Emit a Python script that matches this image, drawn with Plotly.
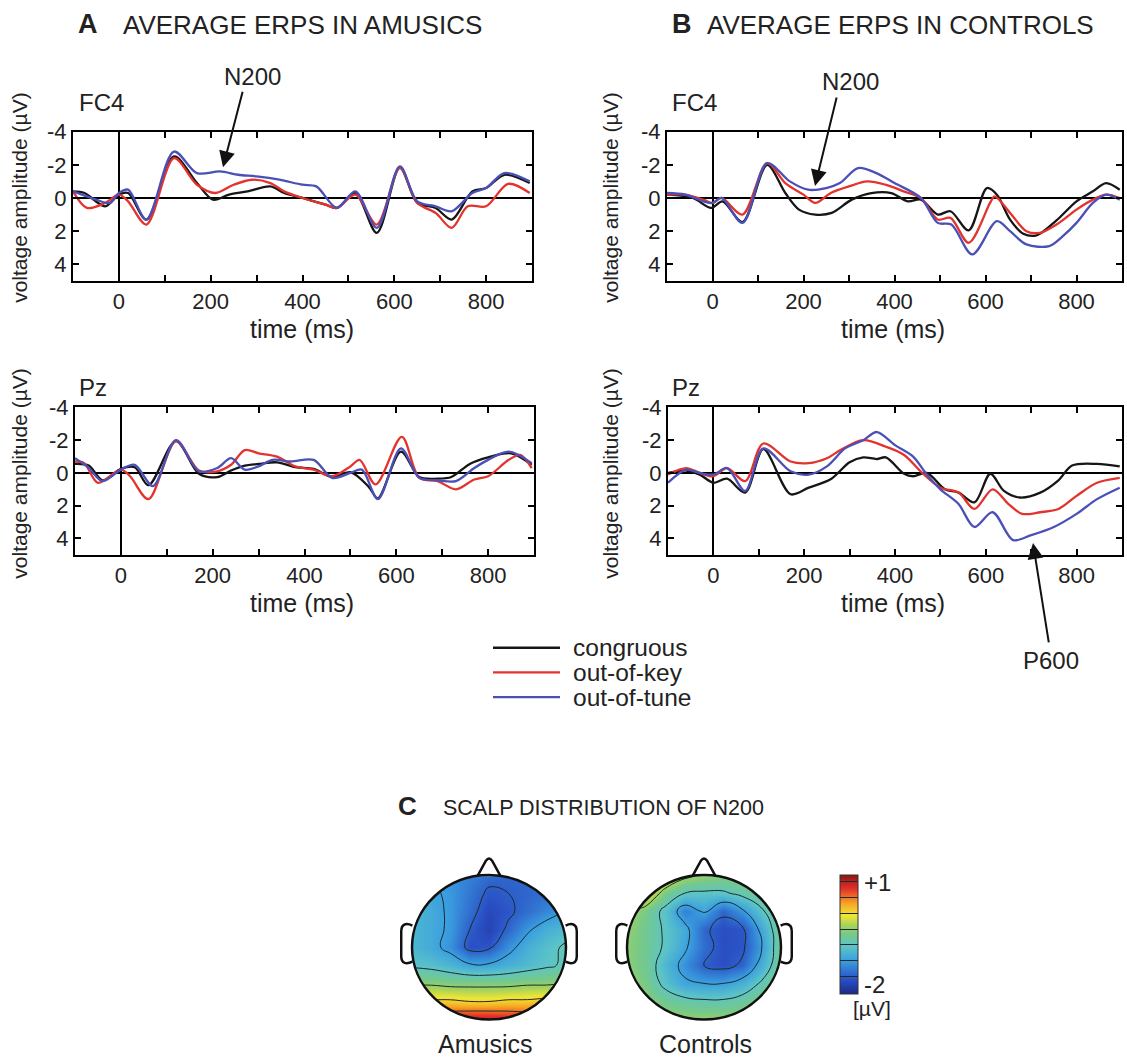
import math
import plotly.graph_objects as go

W, H = 1127, 1061
FONT = "Liberation Sans, Arial, Helvetica, sans-serif"

# ---------------- ERP data (time in ms, amplitude in microvolts) ----------------
# Panel A, FC4 (amusics)
a_fc4_cong_t = [-100, -75, -30, 0, 20, 60, 120, 170, 205, 240, 280, 330, 360, 400, 450, 475, 515, 562, 612, 650, 690, 725, 770, 800, 840, 895]
a_fc4_cong_v = [-0.4, -0.3, 0.5, -0.2, -0.3, 1.3, -2.5, -0.9, 0.1, -0.2, -0.4, -0.7, -0.3, 0.0, 0.4, 0.6, -0.3, 2.1, -1.85, 0.3, 0.6, 1.3, -0.4, -0.6, -1.4, -0.9]
a_fc4_key_t = [-100, -70, -30, 0, 20, 60, 120, 170, 210, 250, 290, 330, 360, 400, 450, 475, 515, 562, 612, 650, 690, 725, 760, 800, 848, 895]
a_fc4_key_v = [-0.4, 0.6, 0.3, -0.2, 0.2, 1.6, -2.4, -0.8, -0.3, -0.8, -1.1, -0.9, -0.4, 0.0, 0.4, 0.6, -0.2, 1.6, -1.8, 0.3, 0.9, 1.8, 0.5, 0.5, -0.85, -0.3]
a_fc4_tune_t = [-100, -50, -20, 0, 20, 60, 120, 170, 220, 260, 300, 350, 400, 430, 475, 515, 562, 612, 650, 690, 725, 770, 800, 840, 895]
a_fc4_tune_v = [-0.4, 0.1, 0.3, -0.3, -0.5, 1.3, -2.8, -1.5, -1.6, -1.4, -1.3, -1.1, -0.8, -0.7, 0.6, -0.4, 1.8, -1.9, 0.2, 0.5, 0.8, -0.3, -0.6, -1.5, -1.0]

# Panel B, FC4 (controls)
b_fc4_cong_t = [-100, -43, -3, 22, 66, 120, 160, 190, 226, 262, 306, 349, 393, 429, 458, 495, 523, 563, 603, 625, 654, 683, 712, 756, 800, 836, 865, 895]
b_fc4_cong_v = [-0.2, 0.0, 0.6, 0.2, 1.45, -2.0, -0.3, 0.7, 1.0, 0.9, 0.1, -0.3, -0.3, 0.2, 0.1, 1.0, 0.8, 1.95, -0.6, -0.2, 1.3, 2.15, 2.25, 1.35, 0.2, -0.4, -0.9, -0.5]
b_fc4_key_t = [-100, -60, -20, 0, 20, 66, 120, 160, 200, 226, 260, 300, 340, 380, 420, 458, 495, 523, 563, 610, 620, 654, 690, 720, 756, 800, 836, 865, 895]
b_fc4_key_v = [-0.2, -0.2, 0.1, 0.3, 0.0, 1.0, -2.1, -0.9, -0.2, 0.3, -0.3, -0.7, -1.0, -0.8, -0.4, 0.0, 1.3, 1.2, 2.7, 0.3, -0.1, 0.9, 2.0, 2.1, 1.6, 0.7, 0.1, -0.2, 0.0]
b_fc4_tune_t = [-100, -60, -20, 0, 20, 66, 120, 170, 210, 250, 280, 320, 360, 400, 458, 495, 525, 571, 625, 654, 690, 740, 770, 800, 836, 865, 895]
b_fc4_tune_v = [-0.3, -0.2, 0.2, 0.3, 0.0, 1.5, -2.1, -1.0, -0.5, -0.6, -0.9, -1.8, -1.5, -0.9, 0.0, 1.5, 1.6, 3.4, 1.4, 2.0, 2.8, 2.9, 2.3, 1.5, 0.3, -0.2, 0.1]

# Panel A, Pz (amusics)
a_pz_cong_t = [-100, -70, -40, 0, 30, 60, 120, 170, 210, 240, 270, 300, 340, 380, 420, 460, 500, 540, 560, 610, 650, 690, 720, 760, 800, 850, 895]
a_pz_cong_v = [-0.55, -0.45, 0.45, -0.25, -0.35, 0.75, -1.95, 0.05, 0.25, -0.15, -0.45, -0.55, -0.65, -0.35, -0.25, 0.25, -0.05, 0.85, 1.55, -1.3, 0.25, 0.35, 0.25, -0.55, -0.95, -1.2, -0.5]
a_pz_key_t = [-100, -80, -50, 0, 20, 60, 120, 170, 210, 240, 270, 300, 340, 380, 420, 460, 500, 520, 555, 612, 650, 690, 730, 770, 800, 845, 870, 895]
a_pz_key_v = [-0.7, -0.6, 0.6, -0.2, 0.2, 1.6, -1.95, -0.15, -0.1, -0.5, -1.4, -1.2, -1.0, -0.4, -0.2, 0.2, -0.4, -0.8, 0.7, -2.2, 0.3, 0.5, 1.0, 0.4, 0.2, -0.8, -1.1, -0.3]
a_pz_tune_t = [-100, -70, -40, 0, 30, 70, 120, 170, 210, 240, 270, 300, 330, 370, 420, 460, 500, 525, 560, 610, 650, 690, 730, 770, 800, 845, 895]
a_pz_tune_v = [-0.9, -0.3, 0.5, -0.2, -0.5, 0.8, -2.0, -0.1, -0.3, -0.9, -0.2, -0.4, -0.8, -0.7, -0.8, 0.3, 0.0, -0.2, 1.6, -1.5, 0.3, 0.45, 0.5, -0.3, -0.8, -1.3, -0.6]

# Panel B, Pz (controls)
b_pz_cong_t = [-100, -60, -30, 0, 30, 70, 110, 170, 210, 260, 300, 330, 360, 380, 420, 440, 470, 510, 540, 575, 610, 640, 675, 720, 760, 790, 845, 895]
b_pz_cong_v = [0.0, -0.15, 0.1, 0.6, 0.35, 1.2, -1.45, 1.3, 0.9, 0.35, -0.65, -0.95, -0.85, -0.95, 0.05, 0.2, 0.0, 1.0, 1.2, 1.8, 0.05, 1.1, 1.5, 1.2, 0.45, -0.45, -0.55, -0.4]
b_pz_key_t = [-100, -60, -30, 0, 30, 70, 110, 170, 210, 250, 280, 330, 380, 420, 460, 500, 540, 575, 615, 650, 680, 720, 760, 800, 845, 895]
b_pz_key_v = [0.1, -0.3, 0.0, 0.2, -0.3, 0.5, -1.8, -0.7, -0.6, -0.9, -1.4, -2.0, -1.6, -1.1, 0.0, 0.9, 1.2, 2.2, 1.0, 1.9, 2.5, 2.4, 2.2, 1.4, 0.6, 0.3]
b_pz_tune_t = [-100, -60, -30, 0, 30, 70, 110, 170, 210, 250, 290, 330, 360, 400, 440, 470, 500, 540, 575, 615, 660, 700, 750, 800, 845, 895]
b_pz_tune_v = [0.6, -0.2, 0.0, 0.1, -0.3, 1.1, -1.5, -0.1, 0.1, -0.4, -1.5, -2.0, -2.5, -1.7, -1.0, 0.1, 1.0, 1.9, 3.3, 2.4, 4.1, 3.8, 3.3, 2.5, 1.6, 0.9]

conditions = ["congruous", "out-of-key", "out-of-tune"]
cond_colors = ["#161616", "#e3332d", "#4a50b6"]

x_tick_vals = [0, 100, 200, 300, 400, 500, 600, 700, 800]
x_tick_text = ["0", "", "200", "", "400", "", "600", "", "800"]
y_tick_vals = [-4, -2, 0, 2, 4]
y_tick_text = ["-4", "-2", "0", "2", "4"]

# ---------------- Scalp maps (N200 amplitude, microvolts) ----------------
topo_grid = [-1.0, -0.75, -0.5, -0.25, 0.0, 0.25, 0.5, 0.75, 1.0]
# rows listed from front (top, y=+1) to back (bottom, y=-1)
topo_amusics_rows = [
    [-1.05, -1.15, -1.25, -1.35, -1.45, -1.50, -1.50, -1.45, -1.40],
    [-1.00, -1.10, -1.20, -1.40, -1.60, -1.55, -1.50, -1.45, -1.35],
    [-0.95, -1.05, -1.20, -1.45, -1.70, -1.60, -1.45, -1.30, -1.15],
    [-0.95, -1.05, -1.20, -1.55, -1.75, -1.50, -1.20, -1.00, -0.90],
    [-0.95, -1.05, -1.25, -1.65, -1.60, -1.25, -1.00, -0.85, -0.70],
    [-0.80, -0.85, -0.95, -1.10, -1.10, -1.00, -0.90, -0.80, -0.70],
    [-0.40, -0.40, -0.45, -0.45, -0.45, -0.45, -0.40, -0.40, -0.35],
    [0.15, 0.10, 0.10, 0.05, 0.05, 0.10, 0.10, 0.15, 0.15],
    [0.75, 0.75, 0.75, 0.80, 0.80, 0.75, 0.70, 0.70, 0.70],
]
topo_controls_rows = [
    [0.40, 0.30, 0.05, -0.25, -0.35, -0.40, -0.40, -0.35, -0.30],
    [0.25, 0.00, -0.50, -0.75, -0.80, -0.80, -0.65, -0.50, -0.35],
    [-0.25, -0.50, -0.85, -1.35, -1.10, -1.50, -1.20, -0.80, -0.45],
    [-0.35, -0.55, -0.80, -1.05, -1.50, -1.65, -1.60, -1.05, -0.50],
    [-0.40, -0.55, -0.80, -1.10, -1.45, -1.65, -1.60, -1.15, -0.50],
    [-0.40, -0.55, -0.95, -1.25, -1.55, -1.65, -1.50, -1.00, -0.50],
    [-0.35, -0.50, -0.85, -1.10, -1.15, -1.15, -1.00, -0.70, -0.45],
    [-0.30, -0.40, -0.55, -0.65, -0.70, -0.70, -0.60, -0.45, -0.35],
    [-0.20, -0.25, -0.30, -0.35, -0.35, -0.35, -0.30, -0.25, -0.20],
]
topo_zmin, topo_zmax = -2.0, 1.0
colorbar_labels = ["+1", "-2"]

jet_scale = [
    [0.00, "#1c2a86"], [0.12, "#2a4fc4"], [0.28, "#3a9fe0"], [0.40, "#5cc4c8"],
    [0.50, "#76c98a"], [0.58, "#a8d45a"], [0.66, "#f2e634"], [0.76, "#f6a524"],
    [0.88, "#e5322a"], [1.00, "#8a1717"],
]

# ---------------- helpers ----------------
def px(x):
    return x / W


def py(y):
    return 1 - y / H


fig = go.Figure()

panels = [
    # (axis suffix, x px range, y px range, data)
    ("", (73, 532), (121, 272),
     [(a_fc4_cong_t, a_fc4_cong_v), (a_fc4_key_t, a_fc4_key_v), (a_fc4_tune_t, a_fc4_tune_v)]),
    ("2", (667, 1122), (121, 272),
     [(b_fc4_cong_t, b_fc4_cong_v), (b_fc4_key_t, b_fc4_key_v), (b_fc4_tune_t, b_fc4_tune_v)]),
    ("3", (75, 534), (400, 549),
     [(a_pz_cong_t, a_pz_cong_v), (a_pz_key_t, a_pz_key_v), (a_pz_tune_t, a_pz_tune_v)]),
    ("4", (668, 1122), (400, 549),
     [(b_pz_cong_t, b_pz_cong_v), (b_pz_key_t, b_pz_key_v), (b_pz_tune_t, b_pz_tune_v)]),
]

tickfont = dict(family=FONT, size=22, color="#222")
layout_axes = {}
for suf, (x0, x1), (y0, y1), series in panels:
    for (t, v), name, col in zip(series, conditions, cond_colors):
        fig.add_trace(go.Scatter(
            x=t, y=v, mode="lines", name=name,
            line=dict(color=col, width=2.3, shape="spline", smoothing=0.9),
            xaxis="x" + suf, yaxis="y" + suf, showlegend=False, hoverinfo="skip"))
    layout_axes["xaxis" + suf] = dict(
        domain=[px(x0), px(x1)], anchor="y" + suf, range=[-100, 900],
        tickmode="array", tickvals=x_tick_vals, ticktext=x_tick_text,
        ticks="inside", ticklen=6, tickwidth=1.5, tickcolor="black",
        showline=True, linewidth=2, linecolor="black", mirror="ticks",
        showgrid=False, zeroline=True, zerolinecolor="black", zerolinewidth=2,
        tickfont=tickfont, fixedrange=True)
    layout_axes["yaxis" + suf] = dict(
        domain=[py(y1), py(y0)], anchor="x" + suf, range=[5, -4],
        tickmode="array", tickvals=y_tick_vals, ticktext=y_tick_text,
        ticks="inside", ticklen=6, tickwidth=1.5, tickcolor="black",
        showline=True, linewidth=2, linecolor="black", mirror="ticks",
        showgrid=False, zeroline=True, zerolinecolor="black", zerolinewidth=2,
        tickfont=tickfont, fixedrange=True)

# ---------------- scalp maps ----------------
topos = [
    ("5", 489, 946, topo_amusics_rows, False),
    ("6", 704, 946, topo_controls_rows, True),
]
RX, RY, PAD = 77, 73, 1.3
shapes = []
n_circ = 160
circ = [(math.cos(2 * math.pi * k / n_circ), math.sin(2 * math.pi * k / n_circ)) for k in range(n_circ)]
for suf, cx, cy, rows, show_cb in topos:
    z = rows[::-1]
    fig.add_trace(go.Contour(
        x=topo_grid, y=topo_grid, z=z, xaxis="x" + suf, yaxis="y" + suf,
        zmin=topo_zmin, zmax=topo_zmax, colorscale=jet_scale,
        autocontour=False,
        contours=dict(coloring="heatmap", start=-1.55, end=0.9, size=0.4, showlabels=False),
        line=dict(color="#1e2a2a", width=1, smoothing=1.3),
        showscale=show_cb, hoverinfo="skip",
        colorbar=dict(x=px(840), xanchor="left", y=py(933), yanchor="middle",
                      len=120 / H, lenmode="fraction", thickness=18, thicknessmode="pixels",
                      showticklabels=False, ticks="", outlinewidth=1, outlinecolor="#333",
                      xpad=0, ypad=0)))
    layout_axes["xaxis" + suf] = dict(domain=[px(cx - RX * PAD), px(cx + RX * PAD)],
                                      range=[-PAD, PAD], visible=False, anchor="y" + suf, fixedrange=True)
    layout_axes["yaxis" + suf] = dict(domain=[py(cy + RY * PAD), py(cy - RY * PAD)],
                                      range=[-PAD, PAD], visible=False, anchor="x" + suf, fixedrange=True)
    xr, yr = "x" + suf, "y" + suf
    # white mask outside the head
    ring = "M -1.3,-1.3 L 1.3,-1.3 L 1.3,1.3 L -1.3,1.3 Z M " + " L ".join(
        f"{c:.4f},{s:.4f}" for c, s in circ) + " Z"
    shapes.append(dict(type="path", xref=xr, yref=yr, path=ring, fillcolor="white",
                       line=dict(width=0), fillrule="evenodd", layer="above"))
    # nose
    shapes.append(dict(type="path", xref=xr, yref=yr,
                       path="M -0.15,0.985 L -0.04,1.2 Q 0,1.26 0.04,1.2 L 0.15,0.985",
                       fillcolor="white", line=dict(color="#111", width=2.5)))
    # ears
    shapes.append(dict(type="path", xref=xr, yref=yr,
                       path="M -0.995,0.3 C -1.07,0.34 -1.14,0.33 -1.14,0.22 L -1.14,-0.12 C -1.14,-0.23 -1.07,-0.24 -0.995,-0.2",
                       fillcolor="white", line=dict(color="#111", width=2.5)))
    shapes.append(dict(type="path", xref=xr, yref=yr,
                       path="M 0.995,0.3 C 1.07,0.34 1.14,0.33 1.14,0.22 L 1.14,-0.12 C 1.14,-0.23 1.07,-0.24 0.995,-0.2",
                       fillcolor="white", line=dict(color="#111", width=2.5)))
    # head outline
    shapes.append(dict(type="circle", xref=xr, yref=yr, x0=-1, x1=1, y0=-1, y1=1,
                       line=dict(color="#111", width=2.5)))

# ---------------- legend (drawn manually) ----------------
legend_y = [643, 668, 693]
annotations = []
for name, col, ly in zip(conditions, cond_colors, legend_y):
    shapes.append(dict(type="line", xref="paper", yref="paper",
                       x0=px(493), x1=px(560), y0=py(ly), y1=py(ly),
                       line=dict(color=col, width=2.3)))
    annotations.append(dict(text=name, x=px(571), y=py(ly), xref="paper", yref="paper",
                            xanchor="left", yanchor="middle", showarrow=False,
                            font=dict(family=FONT, size=24.5, color="#222")))


def txt(text, x, y, size=23, bold=False, xanchor="center", angle=0):
    t = f"<b>{text}</b>" if bold else text
    annotations.append(dict(text=t, x=px(x), y=py(y), xref="paper", yref="paper",
                            xanchor=xanchor, yanchor="middle", showarrow=False, textangle=angle,
                            font=dict(family=FONT, size=size, color="#222")))


def arrow(tip, tail):
    annotations.append(dict(text="", x=px(tip[0]), y=py(tip[1]), xref="paper", yref="paper",
                            ax=tail[0] - tip[0], ay=tail[1] - tip[1], showarrow=True,
                            arrowhead=2, arrowsize=1.6, arrowwidth=2, arrowcolor="#111", standoff=0))


txt("A", 88, 12, size=27, bold=True)
txt("AVERAGE ERPS IN AMUSICS", 121, 13, size=26, xanchor="left")
txt("B", 682, 12, size=27, bold=True)
txt("AVERAGE ERPS IN CONTROLS", 705, 13, size=26, xanchor="left")
txt("FC4", 77, 92, size=24, xanchor="left")
txt("FC4", 670, 92, size=24, xanchor="left")
txt("Pz", 77, 380, size=24, xanchor="left")
txt("Pz", 670, 380, size=24, xanchor="left")
for xc in (302, 893):
    txt("time (ms)", xc, 321, size=25)
    txt("time (ms)", xc, 598, size=25)
for xc in (20, 611):
    txt("voltage amplitude (µV)", xc, 188, size=21, angle=-90)
    txt("voltage amplitude (µV)", xc, 467, size=21, angle=-90)
txt("N200", 252, 65, size=24)
arrow((223, 157), (243, 80))
txt("N200", 850, 70, size=24)
arrow((815, 176), (837, 86))
txt("P600", 1051, 656, size=24)
arrow((1033, 537), (1049, 638))
txt("C", 407, 803, size=26, bold=True)
txt("SCALP DISTRIBUTION OF N200", 441, 805, size=21.5, xanchor="left")
txt("Amusics", 485, 1044, size=25)
txt("Controls", 705, 1044, size=25)
# colour-bar end labels and unit
txt(colorbar_labels[0], 862, 880, size=24, xanchor="left")
txt(colorbar_labels[1], 862, 984, size=24, xanchor="left")
txt("[µV]", 872, 1008, size=21)

fig.update_layout(
    width=W, height=H, margin=dict(l=0, r=0, t=0, b=0),
    paper_bgcolor="white", plot_bgcolor="white",
    showlegend=False, shapes=shapes, annotations=annotations,
    **layout_axes)

fig.write_html("out.html", config={"displayModeBar": False},
               post_script="document.body.style.margin='0px';")
